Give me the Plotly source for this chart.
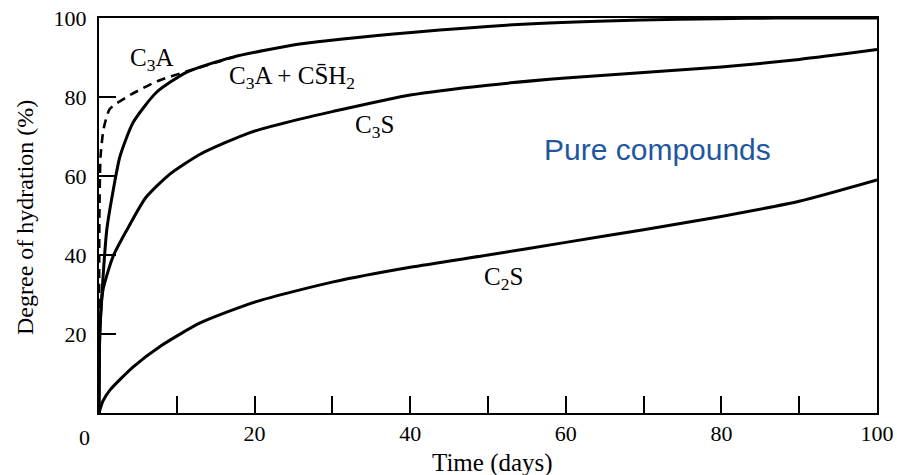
import plotly.graph_objects as go

# Degree of hydration (%) of the pure cement compounds versus time (days)
c3a_days = [0, 0.05, 0.2, 0.6, 1.4, 4.0, 7.5, 11.3, 15.5, 17.5]
c3a_pct = [0, 50, 65, 72, 77, 80.5, 84, 86.5, 89, 90.2]

c3a_gyp_days = [0, 0.1, 0.5, 1.0, 1.7, 2.7, 4.4, 7.4, 11.3, 17.2, 25.8, 40.5, 55.1, 69.8, 79.6, 87, 100]
c3a_gyp_pct = [0, 20, 33.8, 46.4, 55, 65, 73.6, 81.2, 86.3, 90.1, 93.4, 96.4, 98.5, 99.5, 99.8, 100, 100]

c3s_days = [0, 0.1, 0.5, 1.8, 3.6, 6.0, 9.0, 13, 19.4, 25.8, 30, 40, 50, 60, 70, 80, 90, 100]
c3s_pct = [0, 20, 31, 39.6, 46.4, 54.5, 60.3, 65.5, 71, 74.4, 76.3, 80.5, 83, 84.8, 86.2, 87.6, 89.5, 92]

c2s_days = [0, 0.5, 1.4, 4.4, 7.8, 13, 20.2, 30.1, 40, 50, 60, 70, 79.8, 90, 100]
c2s_pct = [0, 3, 5.8, 11.7, 16.8, 22.8, 28.2, 33.2, 36.9, 40, 43.2, 46.4, 49.7, 53.6, 59]

x_tick_vals = [20, 40, 60, 80, 100]
y_tick_vals = [20, 40, 60, 80, 100]

SERIF = "Liberation Serif"
INK = "black"

fig = go.Figure()

solid = dict(color=INK, width=3)
fig.add_trace(go.Scatter(x=c2s_days, y=c2s_pct, mode="lines", line=dict(**solid, shape="spline", smoothing=0.6),
                         hoverinfo="skip"))
fig.add_trace(go.Scatter(x=c3s_days, y=c3s_pct, mode="lines", line=dict(**solid, shape="spline", smoothing=0.6),
                         hoverinfo="skip"))
fig.add_trace(go.Scatter(x=c3a_gyp_days, y=c3a_gyp_pct, mode="lines",
                         line=dict(**solid, shape="spline", smoothing=0.6), hoverinfo="skip"))
fig.add_trace(go.Scatter(x=c3a_days, y=c3a_pct, mode="lines",
                         line=dict(color=INK, width=2.6, dash="9px,6px", shape="spline", smoothing=0.6),
                         hoverinfo="skip"))

curve_labels = [
    ("C<sub>3</sub>A", 6.8, 89.6),
    ("C<sub>3</sub>A + CS\u0304H<sub>2</sub>", 24.8, 85.0),
    ("C<sub>3</sub>S", 35.4, 72.6),
    ("C<sub>2</sub>S", 52.0, 34.1),
]
for text, x, y in curve_labels:
    fig.add_annotation(x=x, y=y, text=text, showarrow=False, xanchor="center", yanchor="middle",
                       font=dict(family=SERIF, size=25, color=INK))

fig.add_annotation(x=71.8, y=66.6, text="Pure compounds", showarrow=False, xanchor="center", yanchor="middle",
                   font=dict(family="Liberation Sans", size=30, color="#1F579F"))

# shared origin label and axis titles
fig.add_annotation(xref="paper", yref="paper", x=-0.018, y=0, yshift=-24, text="0", showarrow=False,
                   xanchor="center", yanchor="middle", font=dict(family=SERIF, size=22, color=INK))
fig.add_annotation(xref="paper", yref="paper", x=0.506, y=-0.127, text="Time (days)", showarrow=False,
                   xanchor="center", yanchor="middle", font=dict(family=SERIF, size=25, color=INK))
fig.add_annotation(xref="paper", yref="paper", x=-0.095, y=0.494, text="Degree of hydration (%)",
                   textangle=-90, showarrow=False, xanchor="center", yanchor="middle",
                   font=dict(family=SERIF, size=24, color=INK))

axis_common = dict(showline=True, linecolor=INK, linewidth=2, mirror=True, showgrid=False, zeroline=False,
                   ticks="inside", ticklen=17, tickwidth=1.5, tickcolor=INK, automargin=False,
                   tickfont=dict(family=SERIF, size=22, color=INK))

fig.update_xaxes(range=[0, 100], tickvals=x_tick_vals,
                 minor=dict(dtick=10, ticks="inside", ticklen=17, tickwidth=1.5, tickcolor=INK, showgrid=False),
                 **axis_common)
fig.update_yaxes(range=[0, 100], tickvals=y_tick_vals, ticklabelstandoff=6, **axis_common)

fig.update_layout(width=897, height=475, margin=dict(l=99, r=20, t=18, b=62),
                  plot_bgcolor="white", paper_bgcolor="white", showlegend=False)

fig.write_html("out.html")
